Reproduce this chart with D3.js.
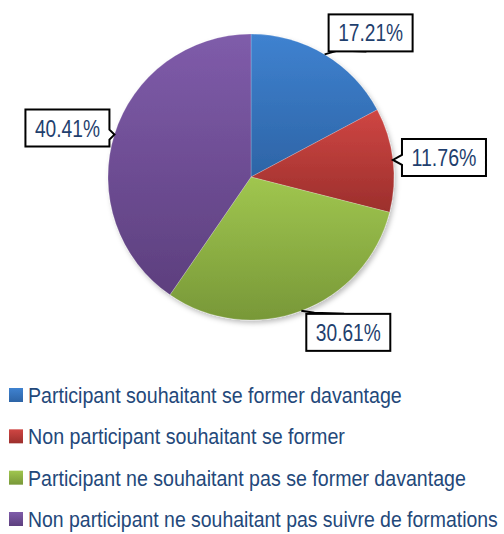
<!DOCTYPE html>
<html><head><meta charset="utf-8">
<script src="https://cdn.jsdelivr.net/npm/d3@7"></script>
<style>body{margin:0;background:#fff}svg{display:block}</style>
</head><body>
<script>
const categories = ["Participant souhaitant se former davantage","Non participant souhaitant se former","Participant ne souhaitant pas se former davantage","Non participant ne souhaitant pas suivre de formations"];
const values = [17.21, 11.76, 30.61, 40.41];
const labels = ["17.21%","11.76%","30.61%","40.41%"];
const colorsTop = ["#3f82d0","#cf4643","#a0c64f","#7f5caa"];
const colorsBot = ["#2d64a6","#9c2f2c","#789838","#5d3f7e"];

const W=504,H=534, cx=251, cy=177, R=143;
const svg=d3.select("body").append("svg").attr("width",W).attr("height",H);
const defs=svg.append("defs");
const f=defs.append("filter").attr("id","sh").attr("x","-10%").attr("y","-10%").attr("width","130%").attr("height","130%");
f.append("feDropShadow").attr("dx",2).attr("dy",3).attr("stdDeviation",2.5).attr("flood-color","#000").attr("flood-opacity",0.25);
values.forEach((v,i)=>{
  const g=defs.append("linearGradient").attr("id","g"+i).attr("x1",0).attr("y1",0).attr("x2",0).attr("y2",1);
  g.append("stop").attr("offset","0%").attr("stop-color",colorsTop[i]);
  g.append("stop").attr("offset","100%").attr("stop-color",colorsBot[i]);
});
const pie=d3.pie().sort(null).value(d=>d);
const arcs=pie(values);
const arc=d3.arc().innerRadius(0).outerRadius(R);
const gp=svg.append("g").attr("transform",`translate(${cx},${cy})`);
gp.append("g").attr("filter","url(#sh)").selectAll("path").data(arcs).join("path")
  .attr("d",arc).attr("fill",(d,i)=>`url(#g${i})`).attr("stroke","rgba(255,255,255,0.35)").attr("stroke-width",0.6);

const font='"Liberation Sans Narrow","Arial Narrow","Liberation Sans",Arial,sans-serif';
// place text horizontally condensed to a target width via scale transform
function fitText(sel, x, y, target, anchor){
  const w=sel.node().getComputedTextLength();
  const sx=Math.min(1, target/w);
  sel.attr("x",0).attr("y",0).attr("text-anchor",anchor)
     .attr("transform",`translate(${x},${y}) scale(${sx},1)`);
}

const boxW=84, boxH=37;
const layout=[{dx:4,dy:-40,type:"line"},{dx:9,dy:-21,type:"notchL"},{dx:5,dy:3,type:"line"},{dx:-89,dy:-25,type:"notchR"}];
arcs.forEach((d,i)=>{
  const a=(d.startAngle+d.endAngle)/2;
  const ax=cx+R*Math.sin(a), ay=cy-R*Math.cos(a);
  const L=layout[i];
  const bx=ax+L.dx, by=ay+L.dy;
  const g=svg.append("g");
  if(L.type==="line"){
    const ty = by > ay ? by : by+boxH;
    g.append("path").attr("d",`M${ax},${ay} L${bx+ (by>ay?8:10)},${ty-1} L${bx+boxW*0.45},${ty}`)
      .attr("fill","none").attr("stroke","#000").attr("stroke-width",2);
    g.append("rect").attr("x",bx).attr("y",by).attr("width",boxW).attr("height",boxH).attr("fill","#fff").attr("stroke","#000").attr("stroke-width",2);
  } else if(L.type==="notchL"){
    const my=ay;
    g.append("path").attr("d",`M${bx},${by} L${bx+boxW},${by} L${bx+boxW},${by+boxH} L${bx},${by+boxH} L${bx},${my+5} L${ax},${my} L${bx},${my-5} Z`)
      .attr("fill","#fff").attr("stroke","#000").attr("stroke-width",2);
  } else {
    const my=ay, rx=bx+boxW;
    g.append("path").attr("d",`M${bx},${by} L${rx},${by} L${rx},${my-5} L${ax},${my} L${rx},${my+5} L${rx},${by+boxH} L${bx},${by+boxH} Z`)
      .attr("fill","#fff").attr("stroke","#000").attr("stroke-width",2);
  }
  const t=g.append("text").attr("font-family",font).attr("font-size",24).attr("fill","#1f3f6e").text(labels[i]);
  fitText(t, bx+boxW/2, by+boxH/2+8.5, 65, "middle");
});

const legY=d3.scalePoint().domain(categories).range([403,527]);
const legendWidths=[374,317,438,470];
const lg=svg.append("g");
categories.forEach((c,i)=>{
  const y=legY(c);
  lg.append("rect").attr("x",9).attr("y",y-15).attr("width",14).attr("height",14).attr("fill",`url(#g${i})`);
  const t=lg.append("text").attr("font-family",font).attr("font-size",22).attr("fill","#23487a").text(c);
  fitText(t, 28, y, legendWidths[i], "start");
});
</script>
</body></html>
